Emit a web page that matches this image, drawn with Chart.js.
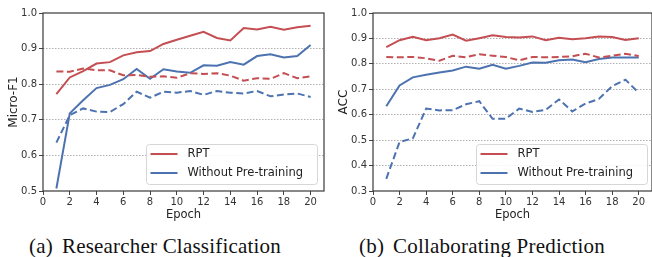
<!DOCTYPE html>
<html><head><meta charset="utf-8">
<script src="https://cdn.jsdelivr.net/npm/chart.js@4.4.1/dist/chart.umd.min.js"></script>
<style>
html,body{margin:0;padding:0;background:#fff;width:652px;height:257px;overflow:hidden;position:relative;}
.wrap{position:absolute;top:0;height:222px;}
#w1{left:0;width:326px;}
#w2{left:330px;width:324px;}
.cap{position:absolute;top:236px;font-family:"Liberation Serif","Times New Roman",serif;font-size:21px;line-height:21px;color:#111;white-space:nowrap;letter-spacing:0.2px;}
.cap span{margin-left:9px;}
</style></head><body>
<div class="wrap" id="w1"><canvas id="c1"></canvas></div>
<div class="wrap" id="w2"><canvas id="c2"></canvas></div>
<div class="cap" id="cap1" style="left:29px">(a)<span>Researcher Classification</span></div>
<div class="cap" id="cap2" style="left:359px">(b)<span>Collaborating Prediction</span></div>
<script>
const epochs = [1,2,3,4,5,6,7,8,9,10,11,12,13,14,15,16,17,18,19,20];
const seriesNames = ["RPT", "Without Pre-training"];
// (a) Researcher Classification, Micro-F1
const aRptSolid = [0.772,0.819,0.837,0.858,0.862,0.881,0.890,0.893,0.913,0.925,0.936,0.947,0.930,0.923,0.958,0.954,0.961,0.953,0.960,0.964];
const aRptDash  = [0.836,0.835,0.844,0.839,0.839,0.825,0.826,0.821,0.822,0.818,0.831,0.829,0.831,0.824,0.810,0.817,0.815,0.831,0.817,0.822];
const aWoSolid  = [0.507,0.718,0.755,0.789,0.798,0.814,0.843,0.815,0.842,0.836,0.832,0.853,0.852,0.862,0.855,0.879,0.884,0.875,0.879,0.910];
const aWoDash   = [0.636,0.713,0.732,0.723,0.722,0.744,0.779,0.762,0.779,0.776,0.781,0.770,0.781,0.776,0.774,0.781,0.766,0.771,0.774,0.764];
// (b) Collaborating Prediction, ACC
const bRptSolid = [0.866,0.893,0.906,0.893,0.901,0.915,0.891,0.901,0.912,0.906,0.904,0.908,0.893,0.903,0.897,0.901,0.908,0.906,0.894,0.901];
const bRptDash  = [0.827,0.826,0.827,0.822,0.812,0.832,0.826,0.838,0.832,0.827,0.814,0.827,0.826,0.827,0.830,0.840,0.825,0.832,0.840,0.831];
const bWoSolid  = [0.633,0.715,0.747,0.757,0.766,0.774,0.789,0.781,0.796,0.781,0.792,0.805,0.804,0.814,0.817,0.806,0.819,0.825,0.825,0.825];
const bWoDash   = [0.348,0.493,0.507,0.624,0.617,0.618,0.641,0.653,0.584,0.584,0.624,0.611,0.619,0.660,0.613,0.644,0.662,0.712,0.738,0.686];
const xTicks = [0,2,4,6,8,10,12,14,16,18,20];
const yTicksA = [0.5,0.6,0.7,0.8,0.9,1.0];
const yTicksB = [0.3,0.4,0.5,0.6,0.7,0.8,0.9,1.0];

const RED = '#c44e52', BLUE = '#4c72b0';
const FONT = "'DejaVu Sans', sans-serif";
const pts = arr => epochs.map((e,i)=>({x:e,y:arr[i]}));

function ds(arr, color, dashed){
  return {data:pts(arr), borderColor:color, backgroundColor:color, borderWidth:2,
    borderDash: dashed?[7,3.5]:[], pointRadius:0, tension:0, fill:false};
}

const framePlugin = {
  id:'frame',
  afterDatasetsDraw(chart){
    const {ctx, chartArea:a} = chart;
    ctx.save();
    ctx.strokeStyle = '#3a3a3a'; ctx.lineWidth = 1.2;
    ctx.strokeRect(a.left, a.top, a.right-a.left, a.bottom-a.top);
    // legend
    const bx = a.left + 103.5, by = a.top + 131.5, bw = 171, bh = 40;
    ctx.fillStyle = 'rgba(255,255,255,0.85)';
    ctx.strokeStyle = '#d6d6d6'; ctx.lineWidth = 1;
    ctx.beginPath();
    if (ctx.roundRect) ctx.roundRect(bx,by,bw,bh,3); else ctx.rect(bx,by,bw,bh);
    ctx.fill(); ctx.stroke();
    const colors = [RED, BLUE];
    ctx.font = "11.5px " + FONT; ctx.textBaseline = 'middle'; ctx.fillStyle = '#222';
    seriesNames.forEach((n,i)=>{
      const y = by + 9.5 + i*19;
      ctx.strokeStyle = colors[i]; ctx.lineWidth = 2;
      ctx.beginPath(); ctx.moveTo(bx+4, y); ctx.lineTo(bx+31, y); ctx.stroke();
      ctx.fillStyle = '#222';
      ctx.fillText(n, bx+41, y+0.5);
    });
    ctx.restore();
  }
};

function make(id, sets, yTicks, yTitle){
  const ymin = yTicks[0], ymax = yTicks[yTicks.length-1];
  return new Chart(document.getElementById(id), {
    type:'line',
    data:{datasets:sets},
    options:{
      responsive:true, maintainAspectRatio:false, animation:false,
      layout:{padding:{top:13, right:2, left:0, bottom:0}},
      plugins:{legend:{display:false}, tooltip:{enabled:false}},
      scales:{
        x:{type:'linear', min:0, max:21,
          afterBuildTicks: s => { s.ticks = xTicks.map(v=>({value:v})); },
          afterFit: s => { s.height = 31; },
          ticks:{font:{family:FONT,size:10}, color:'#333', padding:1, maxRotation:0, autoSkip:false,
            callback: v => String(v)},
          grid:{drawOnChartArea:false, drawTicks:true, tickLength:4, tickColor:'#444', lineWidth:1},
          border:{display:false},
          title:{display:true, text:'Epoch', font:{family:FONT,size:11.5}, color:'#222', padding:{top:-2,bottom:0}}
        },
        y:{type:'linear', min:ymin, max:ymax,
          afterBuildTicks: s => { s.ticks = yTicks.map(v=>({value:v})); },
          afterFit: s => { s.width = 43; },
          ticks:{font:{family:FONT,size:10}, color:'#333', padding:2, autoSkip:false,
            callback: v => Number(v).toFixed(1)},
          grid:{drawTicks:true, tickLength:4, tickColor:'#444', lineWidth:1,
            color: c => (c.tick && (Math.abs(c.tick.value-ymin)<1e-6 || Math.abs(c.tick.value-ymax)<1e-6)) ? 'rgba(0,0,0,0)' : '#b0b0b0'},
          border:{display:false, dash:[1.5,1.5]},
          title:{display:true, text:yTitle, font:{family:FONT,size:12}, color:'#222', padding:{top:7,bottom:0}}
        }
      }
    },
    plugins:[framePlugin]
  });
}

make('c1', [ds(aRptSolid,RED,false), ds(aRptDash,RED,true), ds(aWoSolid,BLUE,false), ds(aWoDash,BLUE,true)], yTicksA, 'Micro-F1');
make('c2', [ds(bRptSolid,RED,false), ds(bRptDash,RED,true), ds(bWoSolid,BLUE,false), ds(bWoDash,BLUE,true)], yTicksB, 'ACC');
</script>
</body></html>
